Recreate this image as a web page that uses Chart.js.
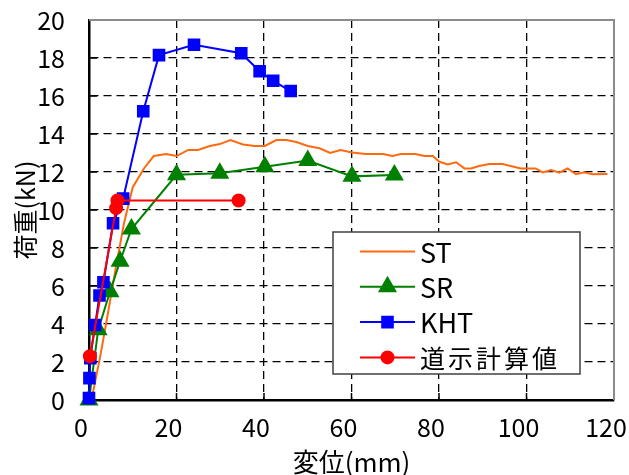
<!DOCTYPE html>
<html>
<head>
<meta charset="utf-8">
<script src="https://cdn.jsdelivr.net/npm/chart.js@4.4.1/dist/chart.umd.min.js"></script>
<style>
html,body{margin:0;padding:0;background:#fff;}
#wrap{width:629px;height:475px;}
</style>
</head>
<body>
<div id="wrap"><canvas id="c" width="629" height="475"></canvas></div>
<script>
const FONT = '"Noto Sans CJK JP", sans-serif';
const JPFONT = '"Noto Sans CJK JP", sans-serif';

const seriesNames = ['ST', 'SR', 'KHT', '道示計算値'];
const xAxisTitle = '変位(mm)';
const yAxisTitle = '荷重(kN)';
const xTicks = [0, 20, 40, 60, 80, 100, 120];
const yTicks = [0, 2, 4, 6, 8, 10, 12, 14, 16, 18, 20];

const stDisp = [0.3, 1.0, 2.4, 3.9, 6.0, 8.0, 10.0, 12.6, 14.8, 17.6, 20.0, 22.7, 24.9, 27.6, 29.9, 32.3, 35.2, 37.9, 40.2, 42.8, 45.1, 47.4, 50.0, 52.7, 55.1, 57.5, 60.1, 63.3, 67.2, 69.4, 71.3, 74.6, 76.7, 78.6, 80.1, 82.0, 83.9, 85.8, 87.3, 89.2, 91.5, 94.5, 96.4, 98.7, 102.1, 103.7, 105.6, 107.5, 109.4, 111.3, 113.2, 115.1, 118.5];
const stLoad = [0.0, 0.5, 2.1, 4.0, 6.8, 9.3, 11.2, 12.2, 12.84, 12.95, 12.84, 13.16, 13.16, 13.37, 13.47, 13.68, 13.45, 13.37, 13.37, 13.68, 13.68, 13.58, 13.37, 13.25, 13.0, 13.16, 13.03, 12.95, 12.95, 12.84, 12.95, 12.95, 12.84, 12.84, 12.54, 12.4, 12.51, 12.19, 12.19, 12.32, 12.42, 12.42, 12.32, 12.19, 12.19, 11.98, 12.1, 11.96, 12.19, 11.88, 11.98, 11.88, 11.9];

const srDisp = [0.0, 2.1, 4.8, 7.1, 9.7, 20.0, 29.9, 40.2, 50.0, 60.1, 69.8];
const srLoad = [0.0, 3.7, 5.7, 7.3, 9.0, 11.85, 11.93, 12.28, 12.6, 11.77, 11.84];

const khtDisp = [0.0, 0.1, 0.3, 1.4, 2.4, 3.3, 5.5, 7.8, 12.4, 16.0, 24.0, 34.8, 39.0, 42.1, 46.1];
const khtLoad = [0.1, 1.15, 2.2, 3.95, 5.5, 6.2, 9.3, 10.6, 15.2, 18.15, 18.7, 18.25, 17.3, 16.8, 16.26];

const calcDisp = [0.2, 6.2, 6.5, 34.2];
const calcLoad = [2.3, 10.1, 10.5, 10.5];

const pts = (xs, ys) => xs.map((x, i) => ({x: x, y: ys[i]}));

function noPad(s) { s.paddingTop = 0; s.paddingBottom = 0; s.paddingLeft = 0; s.paddingRight = 0; }

const frameAndTicks = {
  id: 'frameAndTicks',
  beforeDatasetsDraw(chart) {
    const {ctx, chartArea: a, scales} = chart;
    ctx.save();
    ctx.strokeStyle = '#000';
    ctx.lineWidth = 1.5;
    ctx.setLineDash([]);
    scales.x.ticks.forEach((t) => {
      if (t.value === 0 || t.value === 120) return;
      const px = scales.x.getPixelForValue(t.value);
      ctx.beginPath(); ctx.moveTo(px, a.bottom); ctx.lineTo(px, a.bottom - 7); ctx.stroke();
    });
    scales.y.ticks.forEach((t) => {
      if (t.value === 0) return;
      const py = scales.y.getPixelForValue(t.value);
      ctx.beginPath(); ctx.moveTo(a.left, py); ctx.lineTo(a.left + 8, py); ctx.stroke();
    });
    ctx.strokeStyle = '#8c8c8c';
    ctx.lineWidth = 2;
    ctx.beginPath();
    ctx.moveTo(a.left, a.top); ctx.lineTo(a.right, a.top); ctx.lineTo(a.right, a.bottom);
    ctx.stroke();
    ctx.restore();
  },
  afterDraw(chart) {
    const {ctx, chartArea: a} = chart;
    const bx = a.left + 244, by = a.top + 212, bw = 247, bh = 142;
    ctx.save();
    ctx.fillStyle = '#fff';
    ctx.fillRect(bx, by, bw, bh);
    ctx.strokeStyle = '#404040';
    ctx.lineWidth = 1.5;
    ctx.strokeRect(bx, by, bw, bh);
    chart.data.datasets.forEach((ds, i) => {
      const cy = by + 19.5 + i * 35.3;
      const x1 = bx + 27, x2 = bx + 82;
      ctx.strokeStyle = ds.borderColor;
      ctx.lineWidth = ds.borderWidth;
      ctx.beginPath(); ctx.moveTo(x1, cy); ctx.lineTo(x2, cy); ctx.stroke();
      if (ds.pointRadius > 0) {
        ctx.fillStyle = ds.pointBackgroundColor;
        ctx.strokeStyle = ds.pointBorderColor;
        Chart.helpers.drawPoint(ctx, {pointStyle: ds.pointStyle, radius: ds.pointRadius, borderWidth: 1, rotation: 0}, (x1 + x2) / 2, cy);
      }
      ctx.fillStyle = '#000';
      ctx.textBaseline = 'middle';
      ctx.textAlign = 'left';
      if (/[^\x00-\x7f]/.test(ds.label)) {
        ctx.font = '25px ' + JPFONT;
        ctx.letterSpacing = '3px';
      } else {
        ctx.font = '27px ' + FONT;
        ctx.letterSpacing = '0px';
      }
      ctx.fillText(ds.label, x2 + 5, cy + 1);
    });
    ctx.restore();
  }
};

new Chart(document.getElementById('c'), {
  type: 'scatter',
  data: {
    datasets: [
      {label: seriesNames[0], data: pts(stDisp, stLoad), showLine: true, borderColor: '#FF6A10', backgroundColor: '#FF6A10', borderWidth: 2, pointRadius: 0, pointStyle: 'line', order: 4},
      {label: seriesNames[1], data: pts(srDisp, srLoad), showLine: true, borderColor: '#008000', backgroundColor: '#008000', pointBackgroundColor: '#008000', pointBorderColor: '#008000', borderWidth: 2, pointRadius: 9, pointStyle: 'triangle', order: 3},
      {label: seriesNames[2], data: pts(khtDisp, khtLoad), showLine: true, borderColor: '#0000FF', backgroundColor: '#0000FF', pointBackgroundColor: '#0000FF', pointBorderColor: '#0000FF', borderWidth: 2, pointRadius: 7.5, pointStyle: 'rect', order: 2},
      {label: seriesNames[3], data: pts(calcDisp, calcLoad), showLine: true, borderColor: '#FF0000', backgroundColor: '#FF0000', pointBackgroundColor: '#FF0000', pointBorderColor: '#FF0000', borderWidth: 2, pointRadius: 6, pointStyle: 'circle', order: 1}
    ]
  },
  options: {
    responsive: false,
    animation: false,
    clip: false,
    layout: {padding: {top: 20, right: 15, left: 0, bottom: 0}},
    plugins: {legend: {display: false}, tooltip: {enabled: false}},
    scales: {
      x: {
        type: 'linear', min: 0, max: 120,
        afterFit(s) { s.height = 75; noPad(s); },
        afterBuildTicks(s) { s.ticks = xTicks.map(v => ({value: v})); },
        ticks: {font: {family: FONT, size: 25}, color: '#000', padding: 12, labelOffset: -8, maxRotation: 0},
        grid: {
          drawTicks: false,
          color: c => (c.tick && (c.tick.value === 0 || c.tick.value === 120)) ? 'rgba(0,0,0,0)' : '#000',
          lineWidth: 1.3
        },
        border: {display: true, color: '#000', width: 2.5, dash: [8, 5]},
        title: {display: true, text: xAxisTitle, font: {family: JPFONT, size: 26, lineHeight: 1}, color: '#000', padding: {top: 0, bottom: 0}}
      },
      y: {
        type: 'linear', min: 0, max: 20,
        afterFit(s) { s.width = 89; noPad(s); },
        afterBuildTicks(s) { s.ticks = yTicks.map(v => ({value: v})); },
        ticks: {font: {family: FONT, size: 25}, color: '#000', padding: 24},
        grid: {
          drawTicks: false,
          color: c => (c.tick && (c.tick.value === 0 || c.tick.value === 20)) ? 'rgba(0,0,0,0)' : '#000',
          lineWidth: 1.3
        },
        border: {display: true, color: '#000', width: 2.5, dash: [8, 5]},
        title: {display: true, text: yAxisTitle, font: {family: JPFONT, size: 25, lineHeight: 1.2}, color: '#000', padding: {top: 10, bottom: 0}}
      }
    }
  },
  plugins: [frameAndTicks]
});
</script>
</body>
</html>
